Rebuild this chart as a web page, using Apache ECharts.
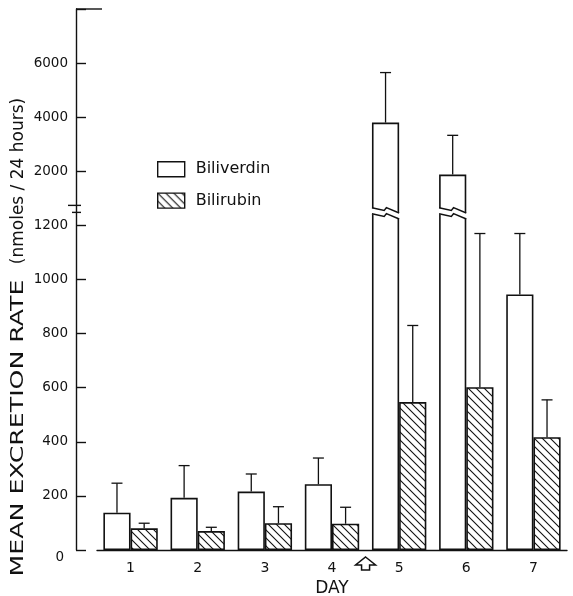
<!DOCTYPE html>
<html><head><meta charset="utf-8">
<script src="https://cdn.jsdelivr.net/npm/echarts@6/dist/echarts.min.js"></script>
<style>html,body{margin:0;padding:0;background:#fff}#c{width:573px;height:596px}</style>
</head><body><div id="c"></div>
<script>
// ---- data ----
const days = ['1', '2', '3', '4', '5', '6', '7'];
const biliverdin   = [138, 193, 216, 243, 3800, 1880, 945];
const biliverdinSE = [109, 119, 65, 97, 1850, 1450, 225];
const bilirubin    = [80, 70, 99, 97, 547, 602, 417];
const bilirubinSE  = [19, 14, 61, 61, 283, 568, 138];
const yTickValues  = [0, 200, 400, 600, 800, 1000, 1200, 2000, 4000, 6000, 8000];
const yTickLabels  = ['0', '200', '400', '600', '800', '1000', '1200', '2000', '4000', '6000', ''];

// broken scale: 0-1200 linear (200 per unit); above the break 2000 per unit (2000 at 7)
function t(v) {
  if (v <= 1200) return v / 200;
  return 7 + (v - 2000) / 2000;
}

const INK = '#111';
const FONT = 'DejaVu Sans';
const GRID_LEFT = 97, Y_OFFSET = 21;
const AXIS_BREAK_T = 6.37;
const BAR_BREAK_T = 6.29;
const CAT_GAP = 0.19;

function hatch() {
  const c = document.createElement('canvas');
  c.width = 8; c.height = 8;
  const g = c.getContext('2d');
  g.fillStyle = '#fff'; g.fillRect(0, 0, 8, 8);
  g.strokeStyle = INK; g.lineWidth = 1.1;
  g.beginPath();
  g.moveTo(-1, -1); g.lineTo(9, 9);
  g.moveTo(-1, 7); g.lineTo(1, 9);
  g.moveTo(7, -1); g.lineTo(9, 1);
  g.stroke();
  return c;
}
const hatchFill = { image: hatch(), repeat: 'repeat' };

const errData = [];
biliverdin.forEach((m, i) => errData.push([i, t(m), t(m + biliverdinSE[i]), -1]));
bilirubin.forEach((m, i) => errData.push([i, t(m), t(m + bilirubinSE[i]), 1]));

const breakData = [];
biliverdin.forEach((m, i) => { if (t(m) > BAR_BREAK_T + 0.4) breakData.push([i, t(m)]); });

const chart = echarts.init(document.getElementById('c'), null, { renderer: 'canvas' });

chart.setOption({
  animation: false,
  backgroundColor: '#fff',
  grid: { left: GRID_LEFT, right: 6, top: 9, bottom: 46, containLabel: false, outerBoundsMode: 'none' },
  legend: {
    left: 157, top: 161, orient: 'vertical', padding: 0,
    itemWidth: 27, itemHeight: 15, itemGap: 15, icon: 'rect',
    itemStyle: { borderColor: INK, borderWidth: 1.4 },
    textStyle: { fontSize: 16, fontFamily: FONT, color: INK, padding: [0, 0, 0, 6] },
    data: ['Biliverdin', 'Bilirubin']
  },
  xAxis: {
    type: 'category', data: days,
    axisLine: { lineStyle: { color: INK, width: 1.4 } },
    axisTick: { show: false },
    axisLabel: { fontSize: 14, fontFamily: FONT, color: INK, margin: 11 },
    name: 'DAY', nameLocation: 'middle', nameGap: 26,
    nameTextStyle: { fontSize: 17, fontFamily: FONT, color: INK }
  },
  yAxis: {
    type: 'value', min: 0, max: 10, interval: 1, offset: Y_OFFSET,
    axisLine: { show: true, lineStyle: { color: INK, width: 1.4 } },
    axisTick: { show: true, inside: true, length: 10, lineStyle: { color: INK, width: 1.4 } },
    splitLine: { show: false },
    axisLabel: {
      fontSize: 13.5, fontFamily: FONT, color: INK, margin: 8,
      formatter: v => {
        const s = yTickLabels[Math.round(v)];
        return s === '0' ? '{z|0}' : s;
      },
      rich: { z: { fontSize: 13.5, fontFamily: FONT, color: INK, padding: [14, 4, 0, 0] } }
    }
  },
  series: [
    {
      name: 'Biliverdin', type: 'bar', data: biliverdin.map(t),
      barGap: '0%', barCategoryGap: (CAT_GAP * 100) + '%',
      itemStyle: { color: '#fff', borderColor: INK, borderWidth: 1.6 }
    },
    {
      name: 'Bilirubin', type: 'bar', data: bilirubin.map(t),
      barGap: '0%', barCategoryGap: (CAT_GAP * 100) + '%',
      itemStyle: { color: hatchFill, borderColor: INK, borderWidth: 1.6 }
    },
    {
      type: 'custom', data: errData, encode: { x: 0, y: [1, 2] }, z: 3,
      renderItem(params, api) {
        const i = api.value(0), side = api.value(3);
        const band = api.size([1, 0])[0];
        const bw = band * (1 - CAT_GAP) / 2;
        const c0 = api.coord([i, api.value(1)]);
        const c1 = api.coord([i, api.value(2)]);
        const x = c0[0] + side * bw / 2;
        const st = { stroke: INK, lineWidth: 1.3 };
        return { type: 'group', children: [
          { type: 'line', shape: { x1: x, y1: c0[1], x2: x, y2: c1[1] }, style: st },
          { type: 'line', shape: { x1: x - 5.5, y1: c1[1], x2: x + 5.5, y2: c1[1] }, style: st }
        ] };
      }
    },
    {
      type: 'custom', data: breakData, encode: { x: 0, y: 1 }, z: 4,
      renderItem(params, api) {
        const i = api.value(0);
        const band = api.size([1, 0])[0];
        const bw = band * (1 - CAT_GAP) / 2;
        const c = api.coord([i, BAR_BREAK_T]);
        const L = c[0] - bw, w = bw, y0 = c[1] - 2;
        const up = [[L, y0], [L + 0.45 * w, y0 + 2.7], [L + 0.53 * w, y0], [L + w, y0 + 5.3]];
        const lo = up.map(p => [p[0], p[1] + 6]);
        const poly = [[L - 2, up[0][1]], ...up.slice(1, 3), [L + w + 2, up[3][1]],
                      [L + w + 2, lo[3][1]], lo[2], lo[1], [L - 2, lo[0][1]]];
        const st = { stroke: INK, lineWidth: 1.4, fill: null };
        return { type: 'group', children: [
          { type: 'polygon', shape: { points: poly }, style: { fill: '#fff', stroke: null } },
          { type: 'polyline', shape: { points: up }, style: st },
          { type: 'polyline', shape: { points: lo }, style: st }
        ] };
      }
    }
  ]
});

// decorations positioned through the axes
const axisX = GRID_LEFT - Y_OFFSET;
const yTop = chart.convertToPixel({ yAxisIndex: 0 }, t(yTickValues[yTickValues.length - 1]));
const yZero = chart.convertToPixel({ yAxisIndex: 0 }, 0);
const yBrk = chart.convertToPixel({ yAxisIndex: 0 }, AXIS_BREAK_T);
const xMid = (chart.convertToPixel({ xAxisIndex: 0 }, 3) + chart.convertToPixel({ xAxisIndex: 0 }, 4)) / 2;
const ax = xMid, ay = yZero + 7;
const ln = { stroke: INK, lineWidth: 1.4 };

chart.setOption({
  graphic: [
    { type: 'line', shape: { x1: axisX, y1: yTop, x2: axisX + 26, y2: yTop }, style: ln },
    { type: 'rect', shape: { x: axisX - 3, y: yBrk, width: 6, height: 7 }, style: { fill: '#fff' } },
    { type: 'line', shape: { x1: axisX - 8, y1: yBrk, x2: axisX + 5, y2: yBrk }, style: ln },
    { type: 'line', shape: { x1: axisX - 4, y1: yBrk + 7, x2: axisX + 5, y2: yBrk + 7 }, style: ln },
    { type: 'polygon', shape: { points: [
        [ax, ay], [ax + 10, ay + 8], [ax + 4, ay + 8], [ax + 4, ay + 13],
        [ax - 4, ay + 13], [ax - 4, ay + 8], [ax - 10, ay + 8]] },
      style: { fill: '#fff', stroke: INK, lineWidth: 1.5 } },
    { type: 'text', x: 18.5, y: 428, rotation: Math.PI / 2, scaleX: 1.4,
      style: { text: 'MEAN EXCRETION RATE', fontSize: 18, fontFamily: FONT, fill: INK,
               align: 'center', verticalAlign: 'middle' } },
    { type: 'text', x: 19, y: 181, rotation: Math.PI / 2,
      style: { text: '(nmoles / 24 hours)', fontSize: 17, fontFamily: FONT, fill: INK,
               align: 'center', verticalAlign: 'middle' } }
  ]
});
</script>
</body></html>
